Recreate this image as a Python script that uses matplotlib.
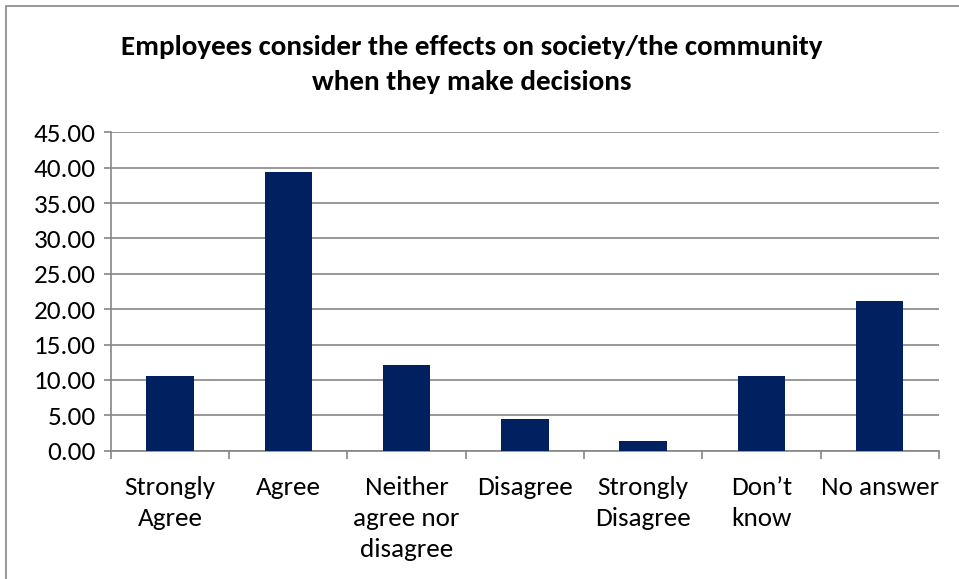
import numpy as np
import matplotlib.pyplot as plt
from matplotlib.patches import Rectangle
from matplotlib import font_manager

# survey answers (percent)
categories = ['Strongly\nAgree', 'Agree', 'Neither\nagree nor\ndisagree', 'Disagree',
              'Strongly\nDisagree', 'Don\u2019t\nknow', 'No answer']
values = [10.5, 39.4, 12.1, 4.5, 1.4, 10.5, 21.2]
yticks = np.arange(0, 46, 5)

names = set(f.name for f in font_manager.fontManager.ttflist)
fam = 'Lato'
for cand in ['Carlito', 'Liberation Sans Narrow', 'Lato']:
    if cand in names:
        fam = cand
        break
plt.rcParams['font.family'] = [fam, 'DejaVu Sans']

fig = plt.figure(figsize=(9.59, 5.79), dpi=100)
ax = fig.add_axes([0.1157, 0.2216, 0.8632, 0.5499])

x = np.arange(len(values))
ax.bar(x, values, width=0.4, color='#002060', zorder=3)

ax.set_xlim(-0.5, len(values) - 0.5)
ax.set_ylim(0, 45)
ax.set_yticks(yticks)
ax.set_yticklabels(['%.2f' % v for v in yticks], fontsize=19.5)
ax.yaxis.grid(True, color='#868686', linewidth=1.2, zorder=0)

ax.set_xticks(x)
ax.set_xticklabels(categories, fontsize=19.5, linespacing=1.44)
ax.tick_params(axis='x', length=0, pad=18)
ax.set_xticks(np.arange(-0.5, len(values)), minor=True)
ax.tick_params(axis='x', which='minor', length=6, color='#868686', width=1.2)
ax.tick_params(axis='y', length=5, color='#868686', width=1.2, pad=6)

for s in ['top', 'right']:
    ax.spines[s].set_visible(False)
for s in ['left', 'bottom']:
    ax.spines[s].set_color('#868686')
    ax.spines[s].set_linewidth(1.2)

fig.text(472 / 959, 1 - 47 / 579, 'Employees consider the effects on society/the community',
         ha='center', va='center', fontsize=21, fontweight='bold')
fig.text(472 / 959, 1 - 82 / 579, 'when they make decisions',
         ha='center', va='center', fontsize=21, fontweight='bold')

# outer chart border (cut off on right and bottom)
fig.patches.append(Rectangle((6 / 959, -0.1), 1.2, 1 - 6 / 579 + 0.1, transform=fig.transFigure,
                             fill=False, edgecolor='#868686', linewidth=1.2))

fig.savefig('out.png', dpi=100)
